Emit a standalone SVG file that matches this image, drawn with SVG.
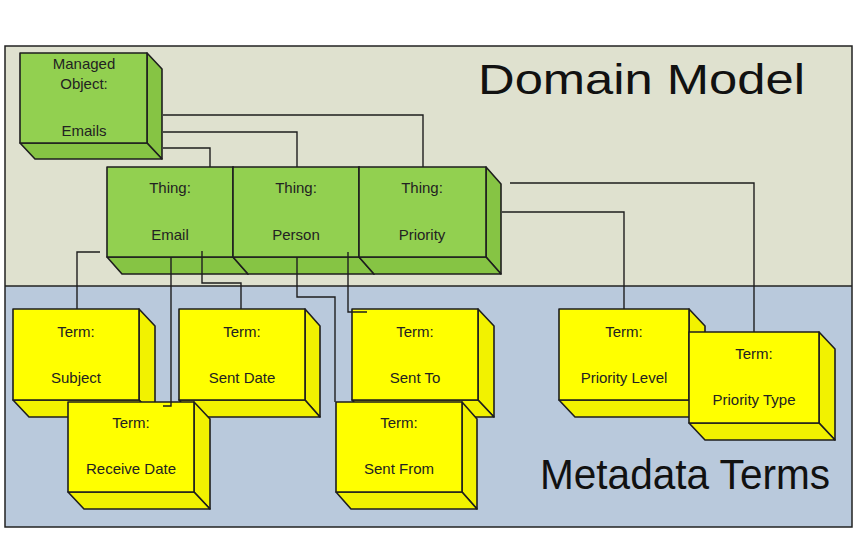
<svg xmlns="http://www.w3.org/2000/svg" width="861" height="540" viewBox="0 0 861 540">
<style>
.g{fill:#92d050;stroke:#1e1e1e;stroke-width:1.6;stroke-linejoin:round}
.gs{fill:#86c444;stroke:#1e1e1e;stroke-width:1.6;stroke-linejoin:round}
.y{fill:#ffff00;stroke:#1e1e1e;stroke-width:1.6;stroke-linejoin:round}
.ys{fill:#f2f200;stroke:#1e1e1e;stroke-width:1.6;stroke-linejoin:round}
.c{fill:none;stroke:#1e1e1e;stroke-width:1.4}
text{font-family:"Liberation Sans",Arial,sans-serif;font-size:15px;fill:#222;text-anchor:middle}
.t{font-size:42px;text-anchor:start;fill:#111}
</style>
<rect x="0" y="0" width="861" height="540" fill="#fff"/>
<rect x="5" y="46" width="847" height="240" fill="#dfe1cf"/>
<rect x="5" y="286" width="847" height="241" fill="#b9c9dc"/>
<rect x="5" y="46" width="847" height="481" fill="none" stroke="#222" stroke-width="1.5"/>
<line x1="5" y1="286" x2="852" y2="286" stroke="#222" stroke-width="1.5"/>
<text class="t" x="478" y="94" textLength="327" lengthAdjust="spacingAndGlyphs">Domain Model</text>
<text class="t" x="540" y="489" textLength="290" lengthAdjust="spacingAndGlyphs">Metadata Terms</text>

<g id="managed-object">
<polygon class="gs" points="147,53 162,69 162,159 147,143"/>
<polygon class="gs" points="20,143 147,143 162,159 35,159"/>
<rect class="g" x="20" y="53" width="127" height="90"/>
<text x="84" y="69">Managed</text><text x="84" y="89">Object:</text><text x="84" y="136">Emails</text>
</g>

<g id="thing-email">
<polygon class="gs" points="233,167 248,184 248,274 233,257"/>
<polygon class="gs" points="107,257 233,257 248,274 122,274"/>
<rect class="g" x="107" y="167" width="126" height="90"/>
<text x="170" y="193">Thing:</text><text x="170" y="240">Email</text>
</g>
<g id="thing-person">
<polygon class="gs" points="359,167 374,184 374,274 359,257"/>
<polygon class="gs" points="233,257 359,257 374,274 248,274"/>
<rect class="g" x="233" y="167" width="126" height="90"/>
<text x="296" y="193">Thing:</text><text x="296" y="240">Person</text>
</g>
<g id="thing-priority">
<polygon class="gs" points="486,167 501,184 501,274 486,257"/>
<polygon class="gs" points="359,257 486,257 501,274 374,274"/>
<rect class="g" x="359" y="167" width="127" height="90"/>
<text x="422" y="193">Thing:</text><text x="422" y="240">Priority</text>
</g>

<g id="term-subject">
<polygon class="ys" points="139,309 155,326 155,417 139,400"/>
<polygon class="ys" points="13,400 139,400 155,417 29,417"/>
<rect class="y" x="13" y="309" width="126" height="91"/>
<text x="76" y="337">Term:</text><text x="76" y="383">Subject</text>
</g>
<g id="term-sent-date">
<polygon class="ys" points="305,309 320,326 320,417 305,400"/>
<polygon class="ys" points="179,400 305,400 320,417 194,417"/>
<rect class="y" x="179" y="309" width="126" height="91"/>
<text x="242" y="337">Term:</text><text x="242" y="383">Sent Date</text>
</g>
<g id="term-receive-date">
<polygon class="ys" points="194,402 210,419 210,509 194,492"/>
<polygon class="ys" points="68,492 194,492 210,509 84,509"/>
<rect class="y" x="68" y="402" width="126" height="90"/>
<text x="131" y="428">Term:</text><text x="131" y="474">Receive Date</text>
</g>
<g id="term-sent-to">
<polygon class="ys" points="478,309 494,326 494,417 478,400"/>
<polygon class="ys" points="352,400 478,400 494,417 368,417"/>
<rect class="y" x="352" y="309" width="126" height="91"/>
<text x="415" y="337">Term:</text><text x="415" y="383">Sent To</text>
</g>
<g id="term-sent-from">
<polygon class="ys" points="462,402 477,419 477,509 462,492"/>
<polygon class="ys" points="336,492 462,492 477,509 351,509"/>
<rect class="y" x="336" y="402" width="126" height="90"/>
<text x="399" y="428">Term:</text><text x="399" y="474">Sent From</text>
</g>
<g id="term-priority-level">
<polygon class="ys" points="689,309 705,326 705,417 689,400"/>
<polygon class="ys" points="559,400 689,400 705,417 575,417"/>
<rect class="y" x="559" y="309" width="130" height="91"/>
<text x="624" y="337">Term:</text><text x="624" y="383">Priority Level</text>
</g>
<g id="term-priority-type">
<polygon class="ys" points="819,332 835,349 835,440 819,423"/>
<polygon class="ys" points="689,423 819,423 835,440 705,440"/>
<rect class="y" x="689" y="332" width="130" height="91"/>
<text x="754" y="359">Term:</text><text x="754" y="405">Priority Type</text>
</g>

<g id="connectors">
<polyline class="c" points="163,115 423,115 423,167"/>
<polyline class="c" points="163,132 297,132 297,167"/>
<polyline class="c" points="163,148 210,148 210,167"/>
<polyline class="c" points="510,183 754,183 754,332"/>
<polyline class="c" points="502,212 624,212 624,309"/>
<polyline class="c" points="100,252 77,252 77,309"/>
<polyline class="c" points="171,257 171,406 163,406"/>
<polyline class="c" points="202,251 202,283 241,283 241,309"/>
<polyline class="c" points="297,257 297,297 335,297 335,402"/>
<polyline class="c" points="348,252 348,312 367,312"/>
</g>
</svg>
